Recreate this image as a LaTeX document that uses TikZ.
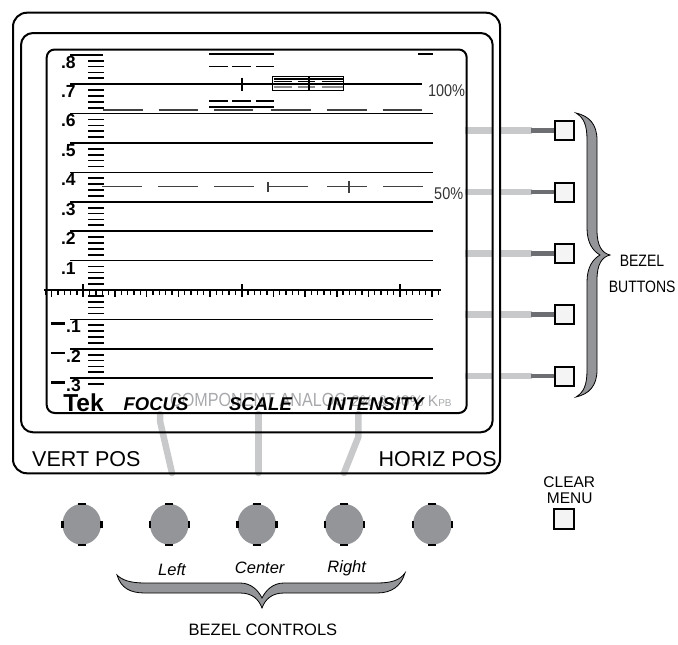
\documentclass[tikz,border=0pt]{standalone}
\usepackage{fontspec}
\setmainfont{Liberation Sans}
\newfontfamily\condfont[FakeStretch=0.85]{Liberation Sans}
\usetikzlibrary{shapes.geometric}
\definecolor{knobgray}{HTML}{939598}
\definecolor{lgray}{HTML}{C8C9CB}
\definecolor{dgray}{HTML}{6D6E71}
\definecolor{btnfill}{HTML}{F4F4F4}
\definecolor{txtgray}{HTML}{A7A9AC}
\newcommand\myfs[1]{\fontsize{#1}{#1}\selectfont}
\begin{document}
\begin{tikzpicture}[x=1pt,y=-1pt,
  frame/.style={draw=black, line width=2pt},
  grat/.style={line width=1.7pt},
  tickdash/.style={line width=1.7pt},
  wave/.style={line width=1.8pt},
  dashw/.style={line width=1.4pt, draw=black!75},
  lgconn/.style={line width=6.3pt, draw=lgray},
  dgconn/.style={line width=4.6pt, draw=dgray},
  kconn/.style={line width=6.5pt, draw=lgray, line cap=round, line join=round},
  btn/.style={draw, line width=2pt, fill=btnfill, minimum size=19pt, inner sep=0pt},
  knob/.style={ellipse, fill=knobgray, minimum width=38.6pt, minimum height=40.6pt, inner sep=0pt},
  knobtick/.style={line width=2.6pt},
  brc/.style={fill=knobgray, draw=black, line width=0.8pt},
  lbl/.style={inner sep=0pt, anchor=base},
  scl/.style={lbl, anchor=base east, font=\bfseries\myfs{17.5}},
  menu/.style={lbl, font=\bfseries\itshape\myfs{18.5}},
  pct/.style={lbl, text=black!80, font=\condfont\myfs{17}}
]
\useasboundingbox (0,0) rectangle (678,645);

% bezel buttons and their connectors
\foreach \y [count=\i] in {130.5,192,253.5,314.5,376} {
  \node[btn] (b\i) at (564.3,\y) {};
  \draw[lgconn] (465,\y) -- (492.7,\y);
  \draw[lgconn] (500,\y) -- (532,\y);
  \draw[dgconn] (531,\y) -- (b\i.west);
}

% knob connectors
\coordinate (fa) at (160,414); \coordinate (fb) at (160,421); \coordinate (fc) at (172,473);
\coordinate (sa) at (258.3,414); \coordinate (sc) at (258.3,473);
\coordinate (ia) at (358.3,414); \coordinate (ib) at (358.3,437); \coordinate (ic) at (344,473);
\draw[kconn] (fa) -- (fb) -- (fc);
\draw[kconn] (sa) -- (sc);
\draw[kconn] (ia) -- (ib) -- (ic);

% frames
\draw[frame, rounded corners=14pt] (13,12.7) rectangle (500,473.3);
\draw[frame, rounded corners=12pt] (21,33) rectangle (492.7,432.3);
\draw[frame, rounded corners=8pt] (46.7,49.5) rectangle (466.7,413);

% graticule lines
\draw[grat] (70,{290-294*0.8}) -- (102.5,{290-294*0.8});
\draw[grat] (70,{290-294*0.7}) -- (422,{290-294*0.7});
\foreach \v in {0.6,0.5,0.4,0.3,0.2,0.1,-0.1,-0.2,-0.3}
  \draw[grat] (70,{290-294*\v}) -- (433,{290-294*\v});

% vertical tick column
\foreach \k in {-16,...,39} {
  \pgfmathtruncatemacro\m{mod(abs(\k),5)}
  \ifnum\m=0 \else
    \draw[tickdash] (88.3,{290-5.88*\k}) -- (104,{290-5.88*\k});
  \fi
}

% horizontal axis with ticks
\draw[line width=2pt] (44,290) -- (441,290);
\foreach \k in {-6,...,56} {
  \pgfmathtruncatemacro\ma{mod(abs(\k),25)}
  \pgfmathtruncatemacro\mb{mod(abs(\k),5)}
  \pgfmathsetmacro\xx{83.3+6.336*\k}
  \ifnum\ma=0
    \draw[line width=2pt] (\xx,284) -- (\xx,297);
  \else\ifnum\mb=0
    \draw[line width=1.6pt] (\xx,290) -- (\xx,297);
  \else
    \draw[line width=1.2pt] (\xx,290) -- (\xx,294.5);
  \fi\fi
}

% scale labels
\foreach \t/\v [count=\i] in {.8/0.8,.7/0.7,.6/0.6,.5/0.5,.4/0.4,.3/0.3,.2/0.2,.1/0.1}
  \node[scl] (lp\i) at (75.9,{290-294*\v+13.4}) {\t};
\foreach \t/\v [count=\i] in {.1/-0.1,.2/-0.2,.3/-0.3}
  \node[scl] (ln\i) at (81,{290-294*\v+13.4}) {\rule[8pt]{13.7pt}{2.4pt}\kern1.3pt\t};

% waveform traces near 100%
\draw[wave] (209,54) -- (274,54);
\draw[wave] (418,54) -- (433,54);
\foreach \a/\b in {209/228,232.3/250.7,256/274.3} {
  \draw[wave] (\a,66.5) -- (\b,66.5);
  \draw[wave] (\a,101) -- (\b,101);
}
\draw[wave] (209,107.3) -- (274.3,107.3);
\foreach \a in {103,158.5,213.5,271,327,382.5}
  \draw[dashw] (\a,110) -- ({\a+39.5},110);
\draw[line width=1.8pt] (241.7,77.7) -- (241.7,91);
% box on the 100% line
\draw[line width=1.1pt] (273.5,79) -- (342.5,79);
\foreach \a/\b in {273.5/291.7,298/315,321.7/342.5} {
  \draw[line width=1.5pt] (\a,81.6) -- (\b,81.6);
  \draw[line width=1.5pt, draw=black!45] (\a,87) -- (\b,87);
}
\draw[line width=1.5pt] (272.7,76.3) rectangle (343.3,90.3);
\draw[line width=1.5pt] (309,76.3) -- (309,90.3);

% 50% trace
\foreach \a in {102,158,214,268,327,383}
  \draw[dashw] (\a,186.7) -- ({\a+39.5},186.7);
\draw[dashw] (268,181.7) -- (268,191.7);
\draw[dashw] (349,180.7) -- (349,193.3);

\node[pct] (p100) at (446.5,96.7) {100\%};
\node[pct] (p50) at (448.7,199.3) {50\%};

% bottom screen texts
\node[lbl, anchor=base west, text=txtgray, font=\myfs{15.5}] (comp) at (170,406)
  {{\condfont\myfs{19}COMPONENT ANALOG} 2\% \& 40\% K{\myfs{10}PB}};
\node[lbl, font=\bfseries\myfs{24.5}] (tek) at (83.5,411.7) {Tek};
\node[menu] (focus) at (156,410.5) {FOCUS};
\node[menu] (scale) at (260.5,410.5) {SCALE};
\node[menu] (inten) at (375.5,410.5) {INTENSITY};

\node[lbl, anchor=base west, font=\myfs{21.5}] (vpos) at (32,466.5) {VERT POS};
\node[lbl, anchor=base east, font=\myfs{21.5}] (hpos) at (497,466.5) {HORIZ POS};

% knobs
\foreach \x [count=\i] in {81.7,169.3,256.7,344.3,432.3} {
  \node[knob] (k\i) at (\x,524.3) {};
  \draw[knobtick] ([xshift=-4pt]k\i.north) -- ([xshift=4pt]k\i.north);
  \draw[knobtick] ([xshift=-4pt]k\i.south) -- ([xshift=4pt]k\i.south);
  \draw[knobtick] ([yshift=-3.5pt]k\i.west) -- ([yshift=3.5pt]k\i.west);
  \draw[knobtick] ([yshift=-3.5pt]k\i.east) -- ([yshift=3.5pt]k\i.east);
}

% clear menu
\node[lbl, font=\myfs{15.5}] (clr) at (569.3,487.7) {CLEAR};
\node[lbl, font=\myfs{15.5}] (mnu) at (569.8,503.9) {MENU};
\node[btn, minimum size=20pt] (cm) at (564.4,519) {};

% bezel buttons brace
\draw[brc] (576,113) .. controls (589,116) and (597,124) .. (597,140) -- (597,230)
  .. controls (597,246) and (602,253) .. (610,255)
  .. controls (602,257) and (597,264) .. (597,280) -- (597,370)
  .. controls (597,386) and (589,394) .. (576,397)
  .. controls (584,392) and (587,385) .. (587,370) -- (587,282)
  .. controls (587,267) and (593,259) .. (600,255)
  .. controls (593,251) and (587,243) .. (587,228) -- (587,140)
  .. controls (587,125) and (584,118) .. (576,113) -- cycle;
\node[lbl, font=\condfont\myfs{16.5}] (bz1) at (642,266.7) {BEZEL};
\node[lbl, font=\condfont\myfs{16.5}] (bz2) at (642.2,292.7) {BUTTONS};

% bezel controls brace
\node[lbl, font=\itshape\myfs{16.5}] (lft) at (172,575) {Left};
\node[lbl, font=\itshape\myfs{16.5}] (ctr) at (259.7,573.3) {Center};
\node[lbl, font=\itshape\myfs{16.5}] (rgt) at (346.7,572.3) {Right};
\draw[brc] (117,575) .. controls (121,588) and (130,593) .. (145,593) -- (240,593)
  .. controls (253,593) and (259,600) .. (262,608)
  .. controls (265,600) and (271,593) .. (284,593) -- (377,593)
  .. controls (392,593) and (401,586) .. (405,573)
  .. controls (400,580) and (392,583) .. (377,583) -- (284,583)
  .. controls (273,583) and (266,590) .. (262,598)
  .. controls (258,590) and (251,583) .. (240,583) -- (145,583)
  .. controls (130,583) and (122,580) .. (117,575) -- cycle;
\node[lbl, font=\myfs{16.5}] (bzc) at (263,635) {BEZEL CONTROLS};
\end{tikzpicture}
\end{document}
